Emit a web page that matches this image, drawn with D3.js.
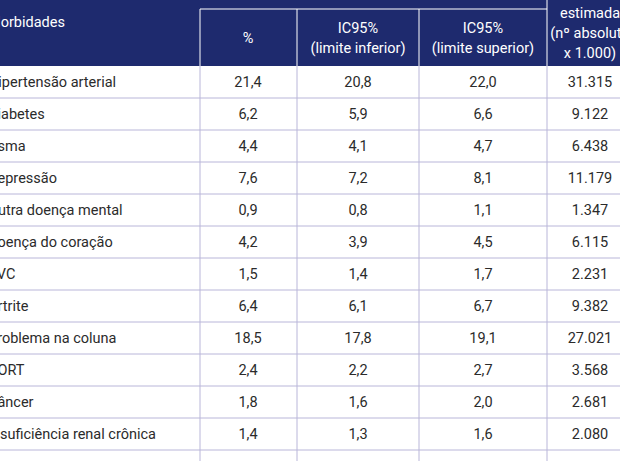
<!doctype html>
<html>
<head>
<meta charset="utf-8">
<style>
  body { margin: 0; background: #fff; overflow: hidden; }
  svg { font-family: "Liberation Sans Narrow", "Roboto", sans-serif; }
</style>
</head>
<body>
<svg id="tbl" width="620" height="461"></svg>
<script src="https://d3js.org/d3.v7.min.js"></script>
<script>
const morbidades = ['Hipertensão arterial', 'Diabetes', 'Asma', 'Depressão', 'Outra doença mental',
  'Doença do coração', 'AVC', 'Artrite', 'Problema na coluna', 'DORT', 'Câncer', 'Insuficiência renal crônica', ''];
const pct = ['21,4', '6,2', '4,4', '7,6', '0,9', '4,2', '1,5', '6,4', '18,5', '2,4', '1,8', '1,4', ''];
const icInf = ['20,8', '5,9', '4,1', '7,2', '0,8', '3,9', '1,4', '6,1', '17,8', '2,2', '1,6', '1,3', ''];
const icSup = ['22,0', '6,6', '4,7', '8,1', '1,1', '4,5', '1,7', '6,7', '19,1', '2,7', '2,0', '1,6', ''];
const estimada = ['31.315', '9.122', '6.438', '11.179', '1.347', '6.115', '2.231', '9.382', '27.021', '3.568', '2.681', '2.080', ''];

const svg = d3.select('#tbl');
const navy = '#1e2a6e', grid = '#b9b6d9', ink = '#2b2b2b';
const colEdges = [-20, 200, 297, 419, 547, 640];
const headerH = 66, rowH = 32;
const y = d3.scaleBand().domain(d3.range(morbidades.length)).range([headerH, headerH + rowH * morbidades.length]);

// header
svg.append('rect').attr('x', 0).attr('y', 0).attr('width', 620).attr('height', headerH).attr('fill', navy);
svg.append('line').attr('x1', 200).attr('x2', 547).attr('y1', 9).attr('y2', 9).attr('stroke', '#fff').attr('stroke-width', 1.2);
[200, 297, 419].forEach(x => svg.append('line').attr('x1', x).attr('x2', x).attr('y1', 9).attr('y2', headerH).attr('stroke', '#fff'));
svg.append('line').attr('x1', 547).attr('x2', 547).attr('y1', 0).attr('y2', headerH).attr('stroke', '#fff');
svg.append('text').attr('x', 140).attr('y', 1).attr('fill', '#fff').attr('font-size', 14).attr('text-anchor', 'middle').text('');
svg.append('text').attr('x', -12).attr('y', 27).attr('fill', '#fff').attr('font-size', 14.5).text('Morbidades');

const head = [
  { x: 248, lines: ['%'], y0: 43 },
  { x: 358, lines: ['IC95%', '(limite inferior)'], y0: 33 },
  { x: 483, lines: ['IC95%', '(limite superior)'], y0: 33 },
  { x: 590, lines: ['estimada', '(nº absoluto', 'x 1.000)'], y0: 18 }
];
head.forEach(h => {
  const t = svg.append('text').attr('fill', '#fff').attr('font-size', 14.5).attr('text-anchor', 'middle');
  h.lines.forEach((l, i) => t.append('tspan').attr('x', h.x).attr('y', h.y0 + i * 20).text(l));
});

// body
const cols = [pct, icInf, icSup, estimada];
const centers = [248, 358, 483, 590];
morbidades.forEach((m, i) => {
  const yc = y(i) + rowH / 2 + 5;
  svg.append('text').attr('x', -12).attr('y', yc).attr('fill', ink).attr('font-size', 14.5).text(m);
  cols.forEach((c, j) => svg.append('text').attr('x', centers[j]).attr('y', yc).attr('fill', ink)
    .attr('font-size', 14.5).attr('text-anchor', 'middle').text(c[i]));
  svg.append('line').attr('x1', 0).attr('x2', 620).attr('y1', y(i) + rowH).attr('y2', y(i) + rowH).attr('stroke', grid);
});
colEdges.slice(1, 5).forEach(x => svg.append('line').attr('x1', x).attr('x2', x).attr('y1', headerH)
  .attr('y2', 461).attr('stroke', grid));
</script>
</body>
</html>
